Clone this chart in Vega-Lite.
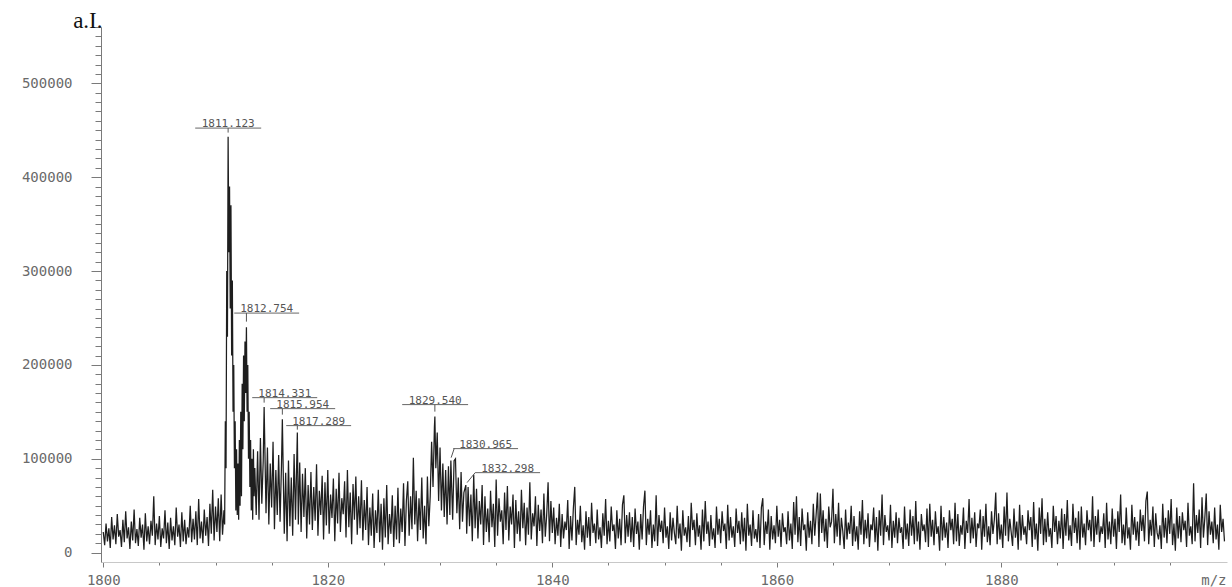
{
  "$schema": "https://vega.github.io/schema/vega-lite/v6.json",
  "width": 1126,
  "height": 535,
  "autosize": {"type": "none"},
  "padding": {"left": 101, "top": 27, "right": 5, "bottom": 25},
  "background": "white",
  "config": {
    "view": {"stroke": null},
    "axis": {
      "grid": false,
      "domainColor": "#7a7a7a",
      "tickColor": "#7a7a7a",
      "labelColor": "#6a6a6a",
      "labelFont": "DejaVu Sans Mono",
      "labelFontSize": 14,
      "labelOverlap": false
    }
  },
  "datasets": {
    "spectrum": [
      {"mz":1800,"ai":22000},{"mz":1800.125,"ai":8000},{"mz":1800.25,"ai":31000},{"mz":1800.375,"ai":12000},{"mz":1800.5,"ai":26000},{"mz":1800.625,"ai":5000},{"mz":1800.75,"ai":38000},{"mz":1800.875,"ai":14000},
      {"mz":1801,"ai":29000},{"mz":1801.125,"ai":9000},{"mz":1801.25,"ai":41000},{"mz":1801.375,"ai":17000},{"mz":1801.5,"ai":24000},{"mz":1801.625,"ai":6000},{"mz":1801.75,"ai":35000},{"mz":1801.875,"ai":11000},
      {"mz":1802,"ai":44000},{"mz":1802.125,"ai":15000},{"mz":1802.25,"ai":27000},{"mz":1802.375,"ai":4000},{"mz":1802.5,"ai":33000},{"mz":1802.625,"ai":13000},{"mz":1802.75,"ai":46000},{"mz":1802.875,"ai":10000},
      {"mz":1803,"ai":25000},{"mz":1803.125,"ai":7000},{"mz":1803.25,"ai":37000},{"mz":1803.375,"ai":16000},{"mz":1803.5,"ai":30000},{"mz":1803.625,"ai":3000},{"mz":1803.75,"ai":42000},{"mz":1803.875,"ai":12000},
      {"mz":1804,"ai":28000},{"mz":1804.125,"ai":9000},{"mz":1804.25,"ai":34000},{"mz":1804.375,"ai":18000},{"mz":1804.5,"ai":60000},{"mz":1804.625,"ai":8000},{"mz":1804.75,"ai":31000},{"mz":1804.875,"ai":14000},
      {"mz":1805,"ai":39000},{"mz":1805.125,"ai":6000},{"mz":1805.25,"ai":26000},{"mz":1805.375,"ai":15000},{"mz":1805.5,"ai":45000},{"mz":1805.625,"ai":10000},{"mz":1805.75,"ai":32000},{"mz":1805.875,"ai":4000},
      {"mz":1806,"ai":37000},{"mz":1806.125,"ai":13000},{"mz":1806.25,"ai":28000},{"mz":1806.375,"ai":8000},{"mz":1806.5,"ai":48000},{"mz":1806.625,"ai":17000},{"mz":1806.75,"ai":30000},{"mz":1806.875,"ai":6000},
      {"mz":1807,"ai":43000},{"mz":1807.125,"ai":12000},{"mz":1807.25,"ai":35000},{"mz":1807.375,"ai":9000},{"mz":1807.5,"ai":27000},{"mz":1807.625,"ai":16000},{"mz":1807.75,"ai":50000},{"mz":1807.875,"ai":11000},
      {"mz":1808,"ai":36000},{"mz":1808.125,"ai":14000},{"mz":1808.25,"ai":44000},{"mz":1808.375,"ai":8000},{"mz":1808.5,"ai":57000},{"mz":1808.625,"ai":15000},{"mz":1808.75,"ai":33000},{"mz":1808.875,"ai":10000},
      {"mz":1809,"ai":46000},{"mz":1809.125,"ai":18000},{"mz":1809.25,"ai":38000},{"mz":1809.375,"ai":7000},{"mz":1809.5,"ai":52000},{"mz":1809.625,"ai":20000},{"mz":1809.75,"ai":67000},{"mz":1809.875,"ai":13000},
      {"mz":1810,"ai":49000},{"mz":1810.125,"ai":22000},{"mz":1810.25,"ai":58000},{"mz":1810.375,"ai":12000},{"mz":1810.5,"ai":62000},{"mz":1810.625,"ai":19000},
      {"mz":1810.75,"ai":45000},{"mz":1810.8125,"ai":30000},{"mz":1810.875,"ai":140000},{"mz":1810.9375,"ai":90000},{"mz":1811,"ai":300000},{"mz":1811.0625,"ai":230000},{"mz":1811.123,"ai":443000},{"mz":1811.1875,"ai":320000},
      {"mz":1811.25,"ai":390000},{"mz":1811.3125,"ai":260000},{"mz":1811.375,"ai":370000},{"mz":1811.4375,"ai":210000},{"mz":1811.5,"ai":290000},{"mz":1811.5625,"ai":150000},{"mz":1811.625,"ai":200000},{"mz":1811.6875,"ai":90000},
      {"mz":1811.75,"ai":140000},{"mz":1811.8125,"ai":45000},{"mz":1811.875,"ai":110000},{"mz":1811.9375,"ai":40000},{"mz":1812,"ai":95000},{"mz":1812.0625,"ai":35000},{"mz":1812.125,"ai":120000},{"mz":1812.1875,"ai":50000},
      {"mz":1812.25,"ai":150000},{"mz":1812.3125,"ai":60000},{"mz":1812.375,"ai":180000},{"mz":1812.4375,"ai":110000},{"mz":1812.5,"ai":210000},{"mz":1812.5625,"ai":140000},{"mz":1812.625,"ai":225000},{"mz":1812.6875,"ai":170000},
      {"mz":1812.754,"ai":240000},{"mz":1812.8125,"ai":150000},{"mz":1812.875,"ai":200000},{"mz":1812.9375,"ai":100000},{"mz":1813,"ai":150000},{"mz":1813.0625,"ai":70000},{"mz":1813.125,"ai":120000},{"mz":1813.1875,"ai":45000},
      {"mz":1813.25,"ai":100000},{"mz":1813.3125,"ai":35000},{"mz":1813.375,"ai":110000},{"mz":1813.4375,"ai":60000},{"mz":1813.5,"ai":90000},
      {"mz":1813.625,"ai":40000},{"mz":1813.75,"ai":108000},{"mz":1813.875,"ai":35000},{"mz":1814,"ai":122000},{"mz":1814.125,"ai":52000},{"mz":1814.25,"ai":98000},{"mz":1814.331,"ai":155000},{"mz":1814.5,"ai":42000},
      {"mz":1814.625,"ai":112000},{"mz":1814.75,"ai":30000},{"mz":1814.875,"ai":95000},{"mz":1815,"ai":48000},{"mz":1815.125,"ai":118000},{"mz":1815.25,"ai":25000},{"mz":1815.375,"ai":88000},{"mz":1815.5,"ai":40000},
      {"mz":1815.625,"ai":104000},{"mz":1815.75,"ai":33000},{"mz":1815.875,"ai":92000},{"mz":1815.954,"ai":142000},{"mz":1816.125,"ai":20000},{"mz":1816.25,"ai":85000},{"mz":1816.375,"ai":12000},{"mz":1816.5,"ai":98000},
      {"mz":1816.625,"ai":28000},{"mz":1816.75,"ai":80000},{"mz":1816.875,"ai":18000},{"mz":1817,"ai":105000},{"mz":1817.125,"ai":35000},{"mz":1817.289,"ai":128000},{"mz":1817.375,"ai":30000},{"mz":1817.5,"ai":96000},
      {"mz":1817.625,"ai":22000},{"mz":1817.75,"ai":84000},{"mz":1817.875,"ai":38000},{"mz":1818,"ai":90000},{"mz":1818.125,"ai":15000},{"mz":1818.25,"ai":72000},{"mz":1818.375,"ai":30000},{"mz":1818.5,"ai":86000},
      {"mz":1818.625,"ai":24000},{"mz":1818.75,"ai":70000},{"mz":1818.875,"ai":34000},
      {"mz":1819,"ai":94000},{"mz":1819.125,"ai":18000},{"mz":1819.25,"ai":66000},{"mz":1819.375,"ai":40000},{"mz":1819.5,"ai":82000},{"mz":1819.625,"ai":14000},{"mz":1819.75,"ai":75000},{"mz":1819.875,"ai":29000},
      {"mz":1820,"ai":88000},{"mz":1820.125,"ai":20000},{"mz":1820.25,"ai":62000},{"mz":1820.375,"ai":37000},{"mz":1820.5,"ai":79000},{"mz":1820.625,"ai":12000},{"mz":1820.75,"ai":68000},{"mz":1820.875,"ai":31000},
      {"mz":1821,"ai":85000},{"mz":1821.125,"ai":22000},{"mz":1821.25,"ai":58000},{"mz":1821.375,"ai":41000},{"mz":1821.5,"ai":76000},{"mz":1821.625,"ai":16000},{"mz":1821.75,"ai":88000},{"mz":1821.875,"ai":27000},
      {"mz":1822,"ai":64000},{"mz":1822.125,"ai":9000},{"mz":1822.25,"ai":73000},{"mz":1822.375,"ai":35000},{"mz":1822.5,"ai":81000},{"mz":1822.625,"ai":19000},{"mz":1822.75,"ai":60000},{"mz":1822.875,"ai":26000},
      {"mz":1823,"ai":77000},{"mz":1823.125,"ai":13000},{"mz":1823.25,"ai":56000},{"mz":1823.375,"ai":24000},{"mz":1823.5,"ai":70000},{"mz":1823.625,"ai":8000},{"mz":1823.75,"ai":48000},{"mz":1823.875,"ai":18000},
      {"mz":1824,"ai":63000},{"mz":1824.125,"ai":5000},{"mz":1824.25,"ai":45000},{"mz":1824.375,"ai":21000},{"mz":1824.5,"ai":67000},{"mz":1824.625,"ai":11000},{"mz":1824.75,"ai":52000},{"mz":1824.875,"ai":3000},
      {"mz":1825,"ai":58000},{"mz":1825.125,"ai":16000},{"mz":1825.25,"ai":72000},{"mz":1825.375,"ai":9000},{"mz":1825.5,"ai":41000},{"mz":1825.625,"ai":20000},{"mz":1825.75,"ai":61000},{"mz":1825.875,"ai":6000},
      {"mz":1826,"ai":50000},{"mz":1826.125,"ai":14000},{"mz":1826.25,"ai":69000},{"mz":1826.375,"ai":10000},{"mz":1826.5,"ai":47000},{"mz":1826.625,"ai":22000},{"mz":1826.75,"ai":74000},{"mz":1826.875,"ai":7000},
      {"mz":1827,"ai":55000},{"mz":1827.125,"ai":76000},{"mz":1827.25,"ai":18000},{"mz":1827.375,"ai":60000},{"mz":1827.5,"ai":25000},{"mz":1827.625,"ai":101000},{"mz":1827.75,"ai":30000},{"mz":1827.875,"ai":66000},
      {"mz":1828,"ai":12000},{"mz":1828.125,"ai":58000},{"mz":1828.25,"ai":24000},{"mz":1828.375,"ai":80000},{"mz":1828.5,"ai":15000},{"mz":1828.625,"ai":50000},{"mz":1828.75,"ai":9000},{"mz":1828.875,"ai":81000},
      {"mz":1829,"ai":28000},{"mz":1829.125,"ai":60000},{"mz":1829.25,"ai":118000},{"mz":1829.375,"ai":70000},{"mz":1829.5,"ai":134000},{"mz":1829.54,"ai":145000},{"mz":1829.625,"ai":90000},{"mz":1829.75,"ai":128000},{"mz":1829.875,"ai":55000},
      {"mz":1830,"ai":112000},{"mz":1830.125,"ai":45000},{"mz":1830.25,"ai":95000},{"mz":1830.375,"ai":38000},{"mz":1830.5,"ai":88000},{"mz":1830.625,"ai":30000},{"mz":1830.75,"ai":92000},{"mz":1830.875,"ai":40000},
      {"mz":1830.965,"ai":98000},{"mz":1831.125,"ai":35000},{"mz":1831.25,"ai":98000},{"mz":1831.375,"ai":100000},{"mz":1831.5,"ai":42000},{"mz":1831.625,"ai":80000},{"mz":1831.75,"ai":25000},{"mz":1831.875,"ai":86000},
      {"mz":1832,"ai":33000},{"mz":1832.125,"ai":64000},{"mz":1832.298,"ai":72000},{"mz":1832.375,"ai":20000},{"mz":1832.5,"ai":70000},{"mz":1832.625,"ai":28000},{"mz":1832.75,"ai":62000},{"mz":1832.875,"ai":12000},
      {"mz":1833,"ai":83000},{"mz":1833.125,"ai":26000},{"mz":1833.25,"ai":68000},{"mz":1833.375,"ai":15000},{"mz":1833.5,"ai":55000},{"mz":1833.625,"ai":30000},{"mz":1833.75,"ai":72000},{"mz":1833.875,"ai":8000},
      {"mz":1834,"ai":60000},{"mz":1834.125,"ai":22000},{"mz":1834.25,"ai":47000},{"mz":1834.375,"ai":11000},{"mz":1834.5,"ai":66000},{"mz":1834.625,"ai":27000},{"mz":1834.75,"ai":52000},{"mz":1834.875,"ai":6000},
      {"mz":1835,"ai":78000},{"mz":1835.125,"ai":18000},{"mz":1835.25,"ai":58000},{"mz":1835.375,"ai":33000},{"mz":1835.5,"ai":45000},{"mz":1835.625,"ai":9000},{"mz":1835.75,"ai":64000},{"mz":1835.875,"ai":24000},
      {"mz":1836,"ai":71000},{"mz":1836.125,"ai":13000},{"mz":1836.25,"ai":49000},{"mz":1836.375,"ai":30000},{"mz":1836.5,"ai":62000},{"mz":1836.625,"ai":5000},{"mz":1836.75,"ai":56000},{"mz":1836.875,"ai":20000},
      {"mz":1837,"ai":44000},{"mz":1837.125,"ai":12000},{"mz":1837.25,"ai":67000},{"mz":1837.375,"ai":26000},{"mz":1837.5,"ai":53000},{"mz":1837.625,"ai":8000},{"mz":1837.75,"ai":48000},{"mz":1837.875,"ai":19000},
      {"mz":1838,"ai":75000},{"mz":1838.125,"ai":14000},{"mz":1838.25,"ai":42000},{"mz":1838.375,"ai":28000},{"mz":1838.5,"ai":60000},{"mz":1838.625,"ai":7000},{"mz":1838.75,"ai":51000},{"mz":1838.875,"ai":23000},
      {"mz":1839,"ai":46000},{"mz":1839.125,"ai":10000},{"mz":1839.25,"ai":63000},{"mz":1839.375,"ai":17000},{"mz":1839.5,"ai":40000},{"mz":1839.625,"ai":75000},{"mz":1839.75,"ai":12000},{"mz":1839.875,"ai":55000},
      {"mz":1840,"ai":21000},{"mz":1840.125,"ai":48000},{"mz":1840.25,"ai":9000},{"mz":1840.375,"ai":37000},{"mz":1840.5,"ai":18000},{"mz":1840.625,"ai":52000},{"mz":1840.75,"ai":6000},{"mz":1840.875,"ai":41000},
      {"mz":1841,"ai":15000},{"mz":1841.125,"ai":33000},{"mz":1841.25,"ai":24000},{"mz":1841.375,"ai":56000},{"mz":1841.5,"ai":4000},{"mz":1841.625,"ai":39000},{"mz":1841.75,"ai":13000},{"mz":1841.875,"ai":47000},
      {"mz":1842,"ai":70000},{"mz":1842.125,"ai":8000},{"mz":1842.25,"ai":35000},{"mz":1842.375,"ai":19000},{"mz":1842.5,"ai":50000},{"mz":1842.625,"ai":11000},{"mz":1842.75,"ai":29000},{"mz":1842.875,"ai":3000},
      {"mz":1843,"ai":44000},{"mz":1843.125,"ai":16000},{"mz":1843.25,"ai":38000},{"mz":1843.375,"ai":7000},{"mz":1843.5,"ai":53000},{"mz":1843.625,"ai":21000},{"mz":1843.75,"ai":31000},{"mz":1843.875,"ai":10000},
      {"mz":1844,"ai":46000},{"mz":1844.125,"ai":14000},{"mz":1844.25,"ai":27000},{"mz":1844.375,"ai":5000},{"mz":1844.5,"ai":42000},{"mz":1844.625,"ai":18000},{"mz":1844.75,"ai":57000},{"mz":1844.875,"ai":9000},
      {"mz":1845,"ai":34000},{"mz":1845.125,"ai":12000},{"mz":1845.25,"ai":49000},{"mz":1845.375,"ai":23000},{"mz":1845.5,"ai":30000},{"mz":1845.625,"ai":4000},{"mz":1845.75,"ai":45000},{"mz":1845.875,"ai":15000},
      {"mz":1846,"ai":36000},{"mz":1846.125,"ai":8000},{"mz":1846.25,"ai":51000},{"mz":1846.375,"ai":61000},{"mz":1846.5,"ai":10000},{"mz":1846.625,"ai":40000},{"mz":1846.75,"ai":17000},{"mz":1846.875,"ai":43000},
      {"mz":1847,"ai":11000},{"mz":1847.125,"ai":38000},{"mz":1847.25,"ai":6000},{"mz":1847.375,"ai":47000},{"mz":1847.5,"ai":20000},{"mz":1847.625,"ai":33000},{"mz":1847.75,"ai":3000},{"mz":1847.875,"ai":41000},
      {"mz":1848,"ai":14000},{"mz":1848.125,"ai":49000},{"mz":1848.25,"ai":66000},{"mz":1848.375,"ai":8000},{"mz":1848.5,"ai":36000},{"mz":1848.625,"ai":19000},{"mz":1848.75,"ai":45000},{"mz":1848.875,"ai":5000},
      {"mz":1849,"ai":30000},{"mz":1849.125,"ai":12000},{"mz":1849.25,"ai":61000},{"mz":1849.375,"ai":7000},{"mz":1849.5,"ai":40000},{"mz":1849.625,"ai":22000},{"mz":1849.75,"ai":34000},{"mz":1849.875,"ai":10000},
      {"mz":1850,"ai":48000},{"mz":1850.125,"ai":16000},{"mz":1850.25,"ai":28000},{"mz":1850.375,"ai":4000},{"mz":1850.5,"ai":43000},{"mz":1850.625,"ai":13000},{"mz":1850.75,"ai":37000},{"mz":1850.875,"ai":21000},
      {"mz":1851,"ai":9000},{"mz":1851.125,"ai":50000},{"mz":1851.25,"ai":15000},{"mz":1851.375,"ai":31000},{"mz":1851.5,"ai":2000},{"mz":1851.625,"ai":45000},{"mz":1851.75,"ai":18000},{"mz":1851.875,"ai":27000},
      {"mz":1852,"ai":11000},{"mz":1852.125,"ai":39000},{"mz":1852.25,"ai":6000},{"mz":1852.375,"ai":53000},{"mz":1852.5,"ai":24000},{"mz":1852.625,"ai":35000},{"mz":1852.75,"ai":8000},{"mz":1852.875,"ai":42000},
      {"mz":1853,"ai":17000},{"mz":1853.125,"ai":29000},{"mz":1853.25,"ai":3000},{"mz":1853.375,"ai":46000},{"mz":1853.5,"ai":12000},{"mz":1853.625,"ai":55000},{"mz":1853.75,"ai":20000},{"mz":1853.875,"ai":33000},
      {"mz":1854,"ai":7000},{"mz":1854.125,"ai":40000},{"mz":1854.25,"ai":14000},{"mz":1854.375,"ai":26000},{"mz":1854.5,"ai":5000},{"mz":1854.625,"ai":49000},{"mz":1854.75,"ai":19000},{"mz":1854.875,"ai":36000},
      {"mz":1855,"ai":10000},{"mz":1855.125,"ai":44000},{"mz":1855.25,"ai":23000},{"mz":1855.375,"ai":31000},{"mz":1855.5,"ai":4000},{"mz":1855.625,"ai":51000},{"mz":1855.75,"ai":13000},{"mz":1855.875,"ai":38000},
      {"mz":1856,"ai":16000},{"mz":1856.125,"ai":28000},{"mz":1856.25,"ai":6000},{"mz":1856.375,"ai":47000},{"mz":1856.5,"ai":21000},{"mz":1856.625,"ai":34000},{"mz":1856.75,"ai":9000},{"mz":1856.875,"ai":43000},
      {"mz":1857,"ai":12000},{"mz":1857.125,"ai":37000},{"mz":1857.25,"ai":2000},{"mz":1857.375,"ai":52000},{"mz":1857.5,"ai":18000},{"mz":1857.625,"ai":30000},{"mz":1857.75,"ai":7000},{"mz":1857.875,"ai":45000},
      {"mz":1858,"ai":15000},{"mz":1858.125,"ai":25000},{"mz":1858.25,"ai":11000},{"mz":1858.375,"ai":41000},{"mz":1858.5,"ai":5000},{"mz":1858.625,"ai":48000},{"mz":1858.75,"ai":58000},{"mz":1858.875,"ai":8000},
      {"mz":1859,"ai":33000},{"mz":1859.125,"ai":20000},{"mz":1859.25,"ai":46000},{"mz":1859.375,"ai":3000},{"mz":1859.5,"ai":39000},{"mz":1859.625,"ai":14000},{"mz":1859.75,"ai":29000},{"mz":1859.875,"ai":10000},
      {"mz":1860,"ai":50000},{"mz":1860.125,"ai":17000},{"mz":1860.25,"ai":35000},{"mz":1860.375,"ai":6000},{"mz":1860.5,"ai":42000},{"mz":1860.625,"ai":22000},{"mz":1860.75,"ai":27000},{"mz":1860.875,"ai":9000},
      {"mz":1861,"ai":44000},{"mz":1861.125,"ai":13000},{"mz":1861.25,"ai":31000},{"mz":1861.375,"ai":4000},{"mz":1861.5,"ai":54000},{"mz":1861.625,"ai":19000},{"mz":1861.75,"ai":60000},{"mz":1861.875,"ai":11000},
      {"mz":1862,"ai":38000},{"mz":1862.125,"ai":7000},{"mz":1862.25,"ai":47000},{"mz":1862.375,"ai":24000},{"mz":1862.5,"ai":30000},{"mz":1862.625,"ai":2000},{"mz":1862.75,"ai":43000},{"mz":1862.875,"ai":16000},
      {"mz":1863,"ai":34000},{"mz":1863.125,"ai":9000},{"mz":1863.25,"ai":52000},{"mz":1863.375,"ai":18000},{"mz":1863.5,"ai":40000},{"mz":1863.625,"ai":64000},{"mz":1863.75,"ai":6000},{"mz":1863.875,"ai":63000},
      {"mz":1864,"ai":21000},{"mz":1864.125,"ai":45000},{"mz":1864.25,"ai":12000},{"mz":1864.375,"ai":36000},{"mz":1864.5,"ai":5000},{"mz":1864.625,"ai":49000},{"mz":1864.75,"ai":27000},{"mz":1864.875,"ai":33000},
      {"mz":1865,"ai":68000},{"mz":1865.125,"ai":10000},{"mz":1865.25,"ai":41000},{"mz":1865.375,"ai":17000},{"mz":1865.5,"ai":53000},{"mz":1865.625,"ai":8000},{"mz":1865.75,"ai":37000},{"mz":1865.875,"ai":23000},
      {"mz":1866,"ai":4000},{"mz":1866.125,"ai":46000},{"mz":1866.25,"ai":14000},{"mz":1866.375,"ai":32000},{"mz":1866.5,"ai":20000},{"mz":1866.625,"ai":50000},{"mz":1866.75,"ai":7000},{"mz":1866.875,"ai":39000},
      {"mz":1867,"ai":12000},{"mz":1867.125,"ai":28000},{"mz":1867.25,"ai":3000},{"mz":1867.375,"ai":44000},{"mz":1867.5,"ai":19000},{"mz":1867.625,"ai":56000},{"mz":1867.75,"ai":9000},{"mz":1867.875,"ai":35000},
      {"mz":1868,"ai":15000},{"mz":1868.125,"ai":42000},{"mz":1868.25,"ai":6000},{"mz":1868.375,"ai":30000},{"mz":1868.5,"ai":24000},{"mz":1868.625,"ai":48000},{"mz":1868.75,"ai":11000},{"mz":1868.875,"ai":38000},
      {"mz":1869,"ai":2000},{"mz":1869.125,"ai":45000},{"mz":1869.25,"ai":18000},{"mz":1869.375,"ai":62000},{"mz":1869.5,"ai":8000},{"mz":1869.625,"ai":40000},{"mz":1869.75,"ai":22000},{"mz":1869.875,"ai":29000},
      {"mz":1870,"ai":13000},{"mz":1870.125,"ai":51000},{"mz":1870.25,"ai":5000},{"mz":1870.375,"ai":34000},{"mz":1870.5,"ai":16000},{"mz":1870.625,"ai":43000},{"mz":1870.75,"ai":10000},{"mz":1870.875,"ai":37000},
      {"mz":1871,"ai":21000},{"mz":1871.125,"ai":27000},{"mz":1871.25,"ai":4000},{"mz":1871.375,"ai":49000},{"mz":1871.5,"ai":14000},{"mz":1871.625,"ai":31000},{"mz":1871.75,"ai":7000},{"mz":1871.875,"ai":46000},
      {"mz":1872,"ai":18000},{"mz":1872.125,"ai":39000},{"mz":1872.25,"ai":9000},{"mz":1872.375,"ai":55000},{"mz":1872.5,"ai":12000},{"mz":1872.625,"ai":33000},{"mz":1872.75,"ai":3000},{"mz":1872.875,"ai":41000},
      {"mz":1873,"ai":23000},{"mz":1873.125,"ai":30000},{"mz":1873.25,"ai":11000},{"mz":1873.375,"ai":47000},{"mz":1873.5,"ai":6000},{"mz":1873.625,"ai":52000},{"mz":1873.75,"ai":17000},{"mz":1873.875,"ai":35000},
      {"mz":1874,"ai":8000},{"mz":1874.125,"ai":44000},{"mz":1874.25,"ai":20000},{"mz":1874.375,"ai":28000},{"mz":1874.5,"ai":2000},{"mz":1874.625,"ai":50000},{"mz":1874.75,"ai":13000},{"mz":1874.875,"ai":38000},
      {"mz":1875,"ai":16000},{"mz":1875.125,"ai":32000},{"mz":1875.25,"ai":5000},{"mz":1875.375,"ai":45000},{"mz":1875.5,"ai":24000},{"mz":1875.625,"ai":36000},{"mz":1875.75,"ai":9000},{"mz":1875.875,"ai":53000},
      {"mz":1876,"ai":12000},{"mz":1876.125,"ai":41000},{"mz":1876.25,"ai":7000},{"mz":1876.375,"ai":29000},{"mz":1876.5,"ai":19000},{"mz":1876.625,"ai":48000},{"mz":1876.75,"ai":4000},{"mz":1876.875,"ai":34000},
      {"mz":1877,"ai":21000},{"mz":1877.125,"ai":57000},{"mz":1877.25,"ai":10000},{"mz":1877.375,"ai":37000},{"mz":1877.5,"ai":15000},{"mz":1877.625,"ai":43000},{"mz":1877.75,"ai":6000},{"mz":1877.875,"ai":31000},
      {"mz":1878,"ai":26000},{"mz":1878.125,"ai":46000},{"mz":1878.25,"ai":3000},{"mz":1878.375,"ai":39000},{"mz":1878.5,"ai":17000},{"mz":1878.625,"ai":52000},{"mz":1878.75,"ai":11000},{"mz":1878.875,"ai":28000},
      {"mz":1879,"ai":8000},{"mz":1879.125,"ai":44000},{"mz":1879.25,"ai":20000},{"mz":1879.375,"ai":35000},{"mz":1879.5,"ai":64000},{"mz":1879.625,"ai":9000},{"mz":1879.75,"ai":42000},{"mz":1879.875,"ai":14000},
      {"mz":1880,"ai":30000},{"mz":1880.125,"ai":5000},{"mz":1880.25,"ai":49000},{"mz":1880.375,"ai":18000},{"mz":1880.5,"ai":64000},{"mz":1880.625,"ai":12000},{"mz":1880.75,"ai":36000},{"mz":1880.875,"ai":22000},
      {"mz":1881,"ai":7000},{"mz":1881.125,"ai":47000},{"mz":1881.25,"ai":16000},{"mz":1881.375,"ai":33000},{"mz":1881.5,"ai":3000},{"mz":1881.625,"ai":51000},{"mz":1881.75,"ai":13000},{"mz":1881.875,"ai":40000},
      {"mz":1882,"ai":19000},{"mz":1882.125,"ai":28000},{"mz":1882.25,"ai":9000},{"mz":1882.375,"ai":45000},{"mz":1882.5,"ai":24000},{"mz":1882.625,"ai":38000},{"mz":1882.75,"ai":6000},{"mz":1882.875,"ai":54000},
      {"mz":1883,"ai":14000},{"mz":1883.125,"ai":31000},{"mz":1883.25,"ai":2000},{"mz":1883.375,"ai":48000},{"mz":1883.5,"ai":20000},{"mz":1883.625,"ai":58000},{"mz":1883.75,"ai":8000},{"mz":1883.875,"ai":36000},
      {"mz":1884,"ai":11000},{"mz":1884.125,"ai":43000},{"mz":1884.25,"ai":17000},{"mz":1884.375,"ai":26000},{"mz":1884.5,"ai":5000},{"mz":1884.625,"ai":50000},{"mz":1884.75,"ai":22000},{"mz":1884.875,"ai":39000},
      {"mz":1885,"ai":9000},{"mz":1885.125,"ai":34000},{"mz":1885.25,"ai":15000},{"mz":1885.375,"ai":47000},{"mz":1885.5,"ai":4000},{"mz":1885.625,"ai":41000},{"mz":1885.75,"ai":18000},{"mz":1885.875,"ai":56000},
      {"mz":1886,"ai":13000},{"mz":1886.125,"ai":29000},{"mz":1886.25,"ai":7000},{"mz":1886.375,"ai":52000},{"mz":1886.5,"ai":21000},{"mz":1886.625,"ai":37000},{"mz":1886.75,"ai":10000},{"mz":1886.875,"ai":44000},
      {"mz":1887,"ai":3000},{"mz":1887.125,"ai":49000},{"mz":1887.25,"ai":16000},{"mz":1887.375,"ai":31000},{"mz":1887.5,"ai":8000},{"mz":1887.625,"ai":45000},{"mz":1887.75,"ai":24000},{"mz":1887.875,"ai":35000},
      {"mz":1888,"ai":12000},{"mz":1888.125,"ai":60000},{"mz":1888.25,"ai":6000},{"mz":1888.375,"ai":39000},{"mz":1888.5,"ai":19000},{"mz":1888.625,"ai":46000},{"mz":1888.75,"ai":11000},{"mz":1888.875,"ai":28000},
      {"mz":1889,"ai":20000},{"mz":1889.125,"ai":42000},{"mz":1889.25,"ai":5000},{"mz":1889.375,"ai":53000},{"mz":1889.5,"ai":14000},{"mz":1889.625,"ai":33000},{"mz":1889.75,"ai":9000},{"mz":1889.875,"ai":47000},
      {"mz":1890,"ai":17000},{"mz":1890.125,"ai":36000},{"mz":1890.25,"ai":4000},{"mz":1890.375,"ai":44000},{"mz":1890.5,"ai":22000},{"mz":1890.625,"ai":62000},{"mz":1890.75,"ai":10000},{"mz":1890.875,"ai":30000},
      {"mz":1891,"ai":8000},{"mz":1891.125,"ai":48000},{"mz":1891.25,"ai":15000},{"mz":1891.375,"ai":27000},{"mz":1891.5,"ai":3000},{"mz":1891.625,"ai":51000},{"mz":1891.75,"ai":19000},{"mz":1891.875,"ai":38000},
      {"mz":1892,"ai":13000},{"mz":1892.125,"ai":33000},{"mz":1892.25,"ai":7000},{"mz":1892.375,"ai":46000},{"mz":1892.5,"ai":23000},{"mz":1892.625,"ai":40000},{"mz":1892.75,"ai":12000},{"mz":1892.875,"ai":55000},
      {"mz":1893,"ai":65000},{"mz":1893.125,"ai":9000},{"mz":1893.25,"ai":35000},{"mz":1893.375,"ai":18000},{"mz":1893.5,"ai":49000},{"mz":1893.625,"ai":6000},{"mz":1893.75,"ai":42000},{"mz":1893.875,"ai":21000},
      {"mz":1894,"ai":14000},{"mz":1894.125,"ai":29000},{"mz":1894.25,"ai":4000},{"mz":1894.375,"ai":52000},{"mz":1894.5,"ai":16000},{"mz":1894.625,"ai":37000},{"mz":1894.75,"ai":10000},{"mz":1894.875,"ai":45000},
      {"mz":1895,"ai":20000},{"mz":1895.125,"ai":57000},{"mz":1895.25,"ai":8000},{"mz":1895.375,"ai":31000},{"mz":1895.5,"ai":2000},{"mz":1895.625,"ai":48000},{"mz":1895.75,"ai":15000},{"mz":1895.875,"ai":39000},
      {"mz":1896,"ai":11000},{"mz":1896.125,"ai":43000},{"mz":1896.25,"ai":24000},{"mz":1896.375,"ai":34000},{"mz":1896.5,"ai":6000},{"mz":1896.625,"ai":53000},{"mz":1896.75,"ai":18000},{"mz":1896.875,"ai":28000},
      {"mz":1897,"ai":9000},{"mz":1897.125,"ai":74000},{"mz":1897.25,"ai":12000},{"mz":1897.375,"ai":40000},{"mz":1897.5,"ai":21000},{"mz":1897.625,"ai":46000},{"mz":1897.75,"ai":5000},{"mz":1897.875,"ai":59000},
      {"mz":1898,"ai":16000},{"mz":1898.125,"ai":37000},{"mz":1898.25,"ai":63000},{"mz":1898.375,"ai":8000},{"mz":1898.5,"ai":44000},{"mz":1898.625,"ai":19000},{"mz":1898.75,"ai":33000},{"mz":1898.875,"ai":10000},
      {"mz":1899,"ai":48000},{"mz":1899.125,"ai":14000},{"mz":1899.25,"ai":30000},{"mz":1899.375,"ai":3000},{"mz":1899.5,"ai":51000},{"mz":1899.625,"ai":22000},{"mz":1899.75,"ai":36000},{"mz":1899.875,"ai":12000}
    ],
    "peaks": [
      {"label":"1811.123","peakMz":1811.123,"textMz":1811.13,"lineFrom":1808.19,"lineTo":1814.07,"lineAi":452300,"tickMz":1811.123,"tipMz":1811.123,"tipAi":447500},
      {"label":"1812.754","peakMz":1812.754,"textMz":1814.56,"lineFrom":1811.67,"lineTo":1817.45,"lineAi":255200,"tickMz":1812.754,"tipMz":1812.754,"tipAi":246100},
      {"label":"1814.331","peakMz":1814.331,"textMz":1816.17,"lineFrom":1813.27,"lineTo":1819.06,"lineAi":165100,"tickMz":1814.331,"tipMz":1814.331,"tipAi":159800},
      {"label":"1815.954","peakMz":1815.954,"textMz":1817.77,"lineFrom":1814.87,"lineTo":1820.66,"lineAi":153400,"tickMz":1815.954,"tipMz":1815.954,"tipAi":147000},
      {"label":"1817.289","peakMz":1817.289,"textMz":1819.19,"lineFrom":1816.3,"lineTo":1822.08,"lineAi":135300,"tickMz":1817.289,"tipMz":1817.289,"tipAi":131000},
      {"label":"1829.540","peakMz":1829.54,"textMz":1829.57,"lineFrom":1826.63,"lineTo":1832.5,"lineAi":157700,"tickMz":1829.54,"tipMz":1829.54,"tipAi":150200},
      {"label":"1830.965","peakMz":1830.965,"textMz":1834.06,"lineFrom":1831.17,"lineTo":1836.95,"lineAi":110800,"tickMz":1831.26,"tipMz":1830.99,"tipAi":101200},
      {"label":"1832.298","peakMz":1832.298,"textMz":1836.02,"lineFrom":1833.13,"lineTo":1838.91,"lineAi":85200,"tickMz":1833.13,"tipMz":1832.41,"tipAi":74600}
    ]
  },
  "layer": [
    {
      "data": {"name": "spectrum"},
      "mark": {"type": "line", "color": "#1e1e1e", "strokeWidth": 1.25, "interpolate": "linear"},
      "encoding": {
        "x": {
          "field": "mz", "type": "quantitative",
          "scale": {"domain": [1799.8, 1900.1], "nice": false, "zero": false},
          "axis": {
            "orient": "bottom",
            "values": [1800, 1805, 1810, 1815, 1820, 1825, 1830, 1835, 1840, 1845, 1850, 1855, 1860, 1865, 1870, 1875, 1880, 1885, 1890, 1895],
            "tickCount": 200,
            "format": "d",
            "labelExpr": "datum.value % 20 === 0 ? datum.label : ''",
            "tickSize": {"condition": {"test": "datum.value % 20 === 0", "value": 5}, "value": 3},
            "labelPadding": 6, "labelBaseline": "top",
            "domainColor": "#c8c8c8",
            "title": "m/z", "titleFont": "DejaVu Sans Mono", "titleFontSize": 14,
            "titleFontWeight": "normal", "titleColor": "#6a6a6a",
            "titleAlign": "right", "titleBaseline": "alphabetic",
            "titleX": 1125, "titleY": 22
          }
        },
        "y": {
          "field": "ai", "type": "quantitative",
          "scale": {"domain": [-10000, 560000], "nice": false, "zero": false},
          "axis": {
            "orient": "left",
            "values": [0,10000,20000,30000,40000,50000,60000,70000,80000,90000,100000,110000,120000,130000,140000,150000,160000,170000,180000,190000,200000,210000,220000,230000,240000,250000,260000,270000,280000,290000,300000,310000,320000,330000,340000,350000,360000,370000,380000,390000,400000,410000,420000,430000,440000,450000,460000,470000,480000,490000,500000,510000,520000,530000,540000,550000,560000],
            "tickCount": 200,
            "format": "d",
            "labelExpr": "datum.value % 100000 === 0 ? datum.label : ''",
            "tickSize": {"condition": {"test": "datum.value % 100000 === 0", "value": 10}, "value": 6},
            "labelPadding": 19,
            "title": "a.I.", "titleAngle": 0, "titleFont": "Liberation Serif",
            "titleFontSize": 23, "titleFontWeight": "normal", "titleColor": "#111111",
            "titleAlign": "right", "titleBaseline": "alphabetic",
            "titleX": 1, "titleY": 0
          }
        }
      }
    },
    {
      "data": {"name": "peaks"},
      "mark": {"type": "rule", "color": "#666666", "strokeWidth": 1},
      "encoding": {
        "x": {"field": "lineFrom", "type": "quantitative"},
        "x2": {"field": "lineTo"},
        "y": {"field": "lineAi", "type": "quantitative"}
      }
    },
    {
      "data": {"name": "peaks"},
      "mark": {"type": "rule", "color": "#555555", "strokeWidth": 1},
      "encoding": {
        "x": {"field": "tickMz", "type": "quantitative"},
        "x2": {"field": "tipMz"},
        "y": {"field": "lineAi", "type": "quantitative"},
        "y2": {"field": "tipAi"}
      }
    },
    {
      "data": {"name": "peaks"},
      "mark": {"type": "text", "font": "DejaVu Sans Mono", "fontSize": 11, "color": "#555555", "align": "center", "baseline": "alphabetic", "dy": -1},
      "encoding": {
        "x": {"field": "textMz", "type": "quantitative"},
        "y": {"field": "lineAi", "type": "quantitative"},
        "text": {"field": "label"}
      }
    }
  ]
}
